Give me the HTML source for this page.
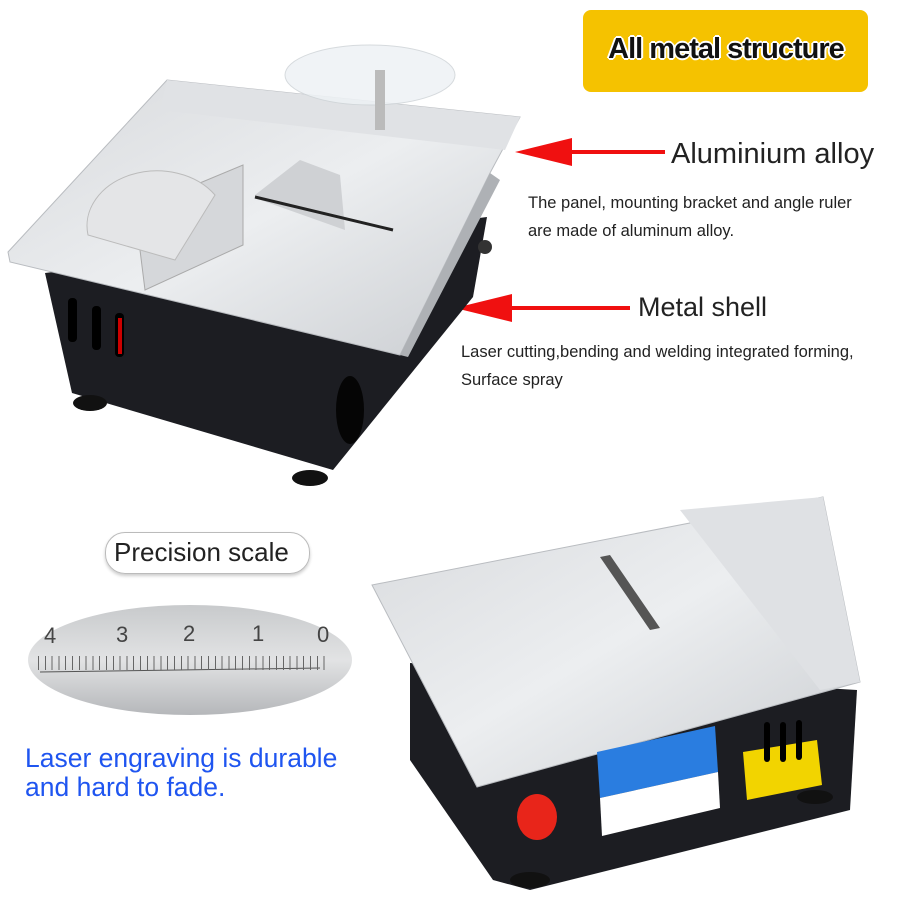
<!DOCTYPE html>
<html><head><meta charset="utf-8"><style>
body{margin:0;width:900px;height:900px;background:#fff;position:relative;overflow:hidden;font-family:"Liberation Sans",sans-serif}
.t{position:absolute;white-space:nowrap;color:#222}
</style></head><body>
<div style="position:absolute;left:583px;top:10px;width:285px;height:82px;background:#f5c200;border-radius:8px"></div>
<div class="t" style="left:592px;top:33px;width:268px;text-align:center;font-size:29px;font-weight:bold;color:#111;letter-spacing:-1px;text-shadow:2px 0 #fff,-2px 0 #fff,0 2px #fff,0 -2px #fff,1px 1px #fff,-1px -1px #fff,1px -1px #fff,-1px 1px #fff">All metal structure</div>
<div class="t" style="left:671px;top:138px;font-size:29px">Aluminium alloy</div>
<div class="t" style="left:528px;top:194px;font-size:16.5px">The panel, mounting bracket and angle ruler</div>
<div class="t" style="left:528px;top:222px;font-size:16.5px">are made of aluminum alloy.</div>
<div class="t" style="left:638px;top:292px;font-size:27px">Metal shell</div>
<div class="t" style="left:461px;top:343px;font-size:16.5px">Laser cutting,bending and welding integrated forming,</div>
<div class="t" style="left:461px;top:371px;font-size:16.5px">Surface spray</div>
<svg width="900" height="900" style="position:absolute;left:0;top:0">
<defs>
<linearGradient id="al" x1="0" y1="0" x2="1" y2="1"><stop offset="0" stop-color="#d8dadd"/><stop offset=".5" stop-color="#eceef0"/><stop offset="1" stop-color="#c9ccd0"/></linearGradient>
<linearGradient id="sc" x1="0" y1="0" x2="0" y2="1"><stop offset="0" stop-color="#c8cacc"/><stop offset=".5" stop-color="#e2e3e4"/><stop offset="1" stop-color="#b5b7ba"/></linearGradient>
</defs>
<line x1="665" y1="152" x2="560" y2="152" stroke="#f01010" stroke-width="4"/>
<polygon points="515,152 572,138 572,166" fill="#f01010"/>
<line x1="630" y1="308" x2="500" y2="308" stroke="#f01010" stroke-width="4"/>
<polygon points="455,308 512,294 512,322" fill="#f01010"/>
<polygon points="45,273 487,217 473,297 333,470 72,393" fill="#1c1d22"/>
<ellipse cx="90" cy="403" rx="17" ry="8" fill="#111"/>
<ellipse cx="310" cy="478" rx="18" ry="8" fill="#111"/>
<ellipse cx="350" cy="410" rx="14" ry="34" fill="#050505"/>
<rect x="68" y="298" width="9" height="44" rx="4" fill="#000"/>
<rect x="92" y="306" width="9" height="44" rx="4" fill="#000"/>
<rect x="115" y="313" width="9" height="44" rx="4" fill="#000"/>
<rect x="118" y="318" width="4" height="36" fill="#c00"/>
<rect x="426" y="250" width="7" height="40" rx="3" fill="#000"/>
<rect x="440" y="240" width="7" height="40" rx="3" fill="#000"/>
<ellipse cx="403" cy="315" rx="11" ry="22" fill="#e8e8e8"/>
<circle cx="485" cy="247" r="7" fill="#333"/>
<polygon points="8,252 167,80 520,117 490,173 400,355 10,262" fill="url(#al)" stroke="#b9bcc0"/>
<polygon points="167,80 520,117 505,150 160,110" fill="#e0e2e5"/>
<polygon points="400,355 490,173 500,180 408,357" fill="#aeb1b5"/>
<ellipse cx="370" cy="75" rx="85" ry="30" fill="#eef2f5" stroke="#cfd4d8" opacity=".85"/>
<rect x="375" y="70" width="10" height="60" fill="#bbb"/>
<polygon points="135,210 243,165 243,245 145,290" fill="#d5d7da" stroke="#aaa"/>
<path d="M88,235 A70,55 0 0 1 215,195 L175,260 Z" fill="#e4e5e7" stroke="#bbb"/>
<polygon points="255,195 300,160 340,175 345,230 255,198" fill="#cfd1d4"/>
<line x1="255" y1="197" x2="393" y2="230" stroke="#222" stroke-width="3"/>
<polygon points="410,663 857,690 850,810 530,890 493,880 410,760" fill="#1c1d22"/>
<ellipse cx="530" cy="880" rx="20" ry="8" fill="#111"/>
<ellipse cx="815" cy="797" rx="18" ry="7" fill="#111"/>
<polygon points="372,585 823,497 860,682 477,787" fill="url(#al)" stroke="#b9bcc0"/>
<polygon points="680,510 823,497 860,682 820,690" fill="#dfe1e4"/>
<polygon points="600,557 610,555 660,628 650,630" fill="#555"/>
<polygon points="597,752 715,726 718,772 600,798" fill="#2a7de0"/>
<polygon points="600,798 718,772 720,808 602,836" fill="#fff"/>
<polygon points="743,752 817,740 822,785 747,800" fill="#f2d400"/>
<rect x="764" y="722" width="6" height="40" rx="3" fill="#000"/>
<rect x="780" y="722" width="6" height="40" rx="3" fill="#000"/>
<rect x="796" y="720" width="6" height="40" rx="3" fill="#000"/>
<ellipse cx="537" cy="817" rx="20" ry="23" fill="#e8251a"/>
<ellipse cx="190" cy="660" rx="162" ry="55" fill="url(#sc)"/>
<line x1="40" y1="672" x2="320" y2="668" stroke="#555"/>
<g font-family="Liberation Sans" font-size="22" fill="#444">
<text x="44" y="643">4</text><text x="116" y="642">3</text><text x="183" y="641">2</text><text x="252" y="641">1</text><text x="317" y="642">0</text>
</g>
</svg>
<div style="position:absolute;left:38px;top:656px;width:290px;height:14px;background:repeating-linear-gradient(90deg,#666 0 1px,transparent 1px 6.8px)"></div>
<div style="position:absolute;left:105px;top:532px;width:203px;height:40px;border:1.5px solid #bbb;border-radius:20px;box-shadow:0 2px 3px #ccc"></div>
<div class="t" style="left:114px;top:537px;font-size:26px">Precision scale</div>
<div class="t" style="left:25px;top:744px;font-size:26.5px;color:#1f55f0;line-height:29px">Laser engraving is durable<br>and hard to fade.</div>
</body></html>
